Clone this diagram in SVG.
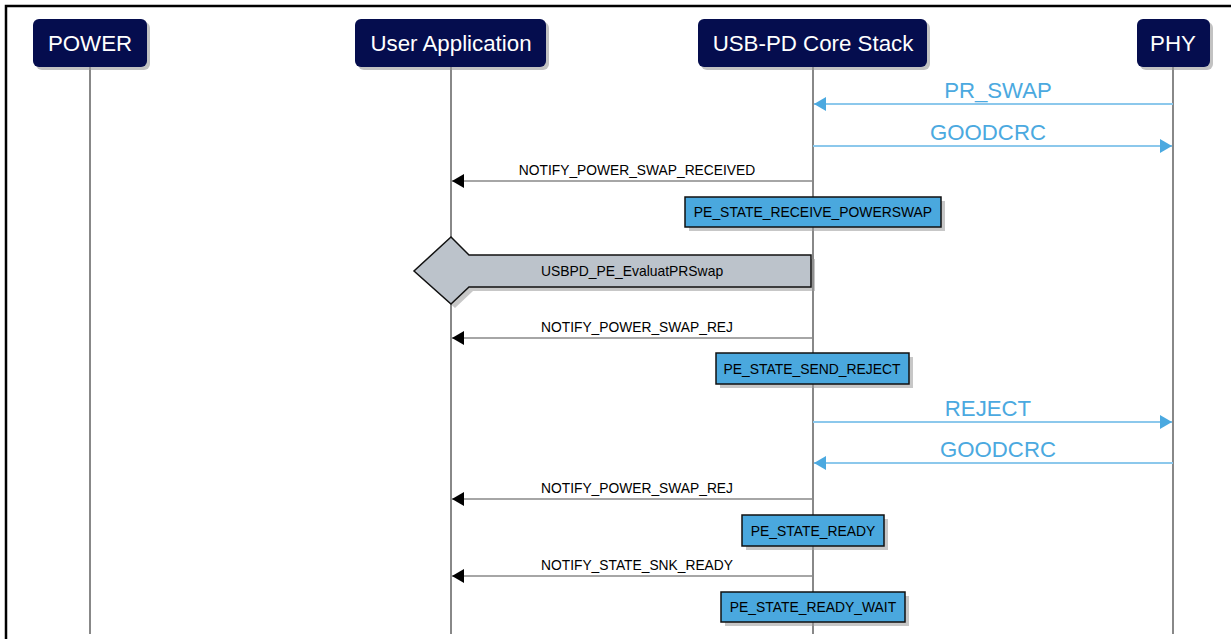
<svg xmlns="http://www.w3.org/2000/svg" width="1231" height="639" viewBox="0 0 1231 639">
<defs>
<style>
.hdr{fill:#050D4E;}
.hdrsh{fill:#9a9a9a;opacity:0.6;}
.hdrt{font-family:"Liberation Sans",Arial,sans-serif;font-size:22.3px;fill:#ffffff;text-anchor:middle;}
.life{stroke:#888888;stroke-width:2;fill:none;}
.msg{stroke:#888888;stroke-width:1.6;fill:none;}
.msgt{font-family:"Liberation Sans",Arial,sans-serif;font-size:13.8px;fill:#000000;text-anchor:middle;}
.phy{stroke:#8CC8EC;stroke-width:2;fill:none;}
.phyt{font-family:"Liberation Sans",Arial,sans-serif;font-size:22.2px;fill:#4BA9E0;text-anchor:middle;}
.st{fill:#4AA8DE;stroke:#111111;stroke-width:1.5;}
.sh{fill:#999999;opacity:0.55;}
.stt{font-family:"Liberation Sans",Arial,sans-serif;font-size:13.9px;fill:#000000;text-anchor:middle;}
</style>
<marker id="ab" markerWidth="14" markerHeight="16" refX="12" refY="8" orient="auto" markerUnits="userSpaceOnUse">
<path d="M0,1 L12,8 L0,15 Z" fill="#000000"/>
</marker>
<marker id="abl" markerWidth="14" markerHeight="16" refX="12" refY="8" orient="auto" markerUnits="userSpaceOnUse">
<path d="M0,1 L12,8 L0,15 Z" fill="#4BA9E0"/>
</marker>
</defs>
<rect width="1231" height="639" fill="#ffffff"/>
<!-- frame -->
<path d="M6,639 L6,6 L1231,6" stroke="#000000" stroke-width="2.5" fill="none"/>

<g id="lifelines">
<line class="life" x1="90" y1="66" x2="90" y2="634"/>
<line class="life" x1="451" y1="66" x2="451" y2="634"/>
<line class="life" x1="813" y1="66" x2="813" y2="634"/>
<line class="life" x1="1173" y1="66" x2="1173" y2="634"/>
</g>

<g id="power">
<rect class="hdrsh" x="36" y="22" width="114" height="48" rx="6"/>
<rect class="hdr" x="33" y="19" width="114" height="48" rx="6"/>
<text class="hdrt" x="90" y="51">POWER</text>
</g>
<g id="userapp">
<rect class="hdrsh" x="358" y="22" width="191" height="48" rx="6"/>
<rect class="hdr" x="355" y="19" width="191" height="48" rx="6"/>
<text class="hdrt" x="451" y="51">User Application</text>
</g>
<g id="corestack">
<rect class="hdrsh" x="701" y="22" width="229" height="48" rx="6"/>
<rect class="hdr" x="698" y="19" width="229" height="48" rx="6"/>
<text class="hdrt" x="813" y="51">USB-PD Core Stack</text>
</g>
<g id="phy">
<rect class="hdrsh" x="1140" y="22" width="73" height="48" rx="6"/>
<rect class="hdr" x="1137" y="19" width="73" height="48" rx="6"/>
<text class="hdrt" x="1173" y="51">PHY</text>
</g>

<g id="connectors">
<line class="phy" x1="1173" y1="104" x2="814" y2="104" marker-end="url(#abl)"/>
<text class="phyt" x="998" y="98">PR_SWAP</text>
<line class="phy" x1="813" y1="146" x2="1172" y2="146" marker-end="url(#abl)"/>
<text class="phyt" x="988" y="140">GOODCRC</text>
<line class="msg" x1="813" y1="181" x2="452" y2="181" marker-end="url(#ab)"/>
<text class="msgt" x="637" y="175">NOTIFY_POWER_SWAP_RECEIVED</text>
<line class="msg" x1="813" y1="338" x2="452" y2="338" marker-end="url(#ab)"/>
<text class="msgt" x="637" y="332">NOTIFY_POWER_SWAP_REJ</text>
<line class="phy" x1="813" y1="422" x2="1172" y2="422" marker-end="url(#abl)"/>
<text class="phyt" x="988" y="416">REJECT</text>
<line class="phy" x1="1173" y1="463" x2="814" y2="463" marker-end="url(#abl)"/>
<text class="phyt" x="998" y="457">GOODCRC</text>
<line class="msg" x1="813" y1="499" x2="452" y2="499" marker-end="url(#ab)"/>
<text class="msgt" x="637" y="493">NOTIFY_POWER_SWAP_REJ</text>
<line class="msg" x1="813" y1="576" x2="452" y2="576" marker-end="url(#ab)"/>
<text class="msgt" x="637" y="570">NOTIFY_STATE_SNK_READY</text>
</g>

<g id="state_receive_powerswap">
<rect class="sh" x="689" y="201" width="256" height="30"/>
<rect class="st" x="685" y="197" width="256" height="30"/>
<text class="stt" x="813" y="217">PE_STATE_RECEIVE_POWERSWAP</text>
</g>

<g id="evaluate_prswap">
<polygon points="455,241 473,259 815,259 815,291 473,291 455,308 418,275" fill="#999999" opacity="0.55"/>
<polygon points="451,237 469,255 811,255 811,287 469,287 451,304 414,271" fill="#BCC3CB" stroke="#111111" stroke-width="1.5"/>
<text class="stt" x="632" y="276">USBPD_PE_EvaluatPRSwap</text>
</g>

<g id="state_send_reject">
<rect class="sh" x="720" y="357" width="193" height="31"/>
<rect class="st" x="716" y="353" width="193" height="31"/>
<text class="stt" x="812" y="374">PE_STATE_SEND_REJECT</text>
</g>

<g id="state_ready">
<rect class="sh" x="746" y="519" width="142" height="31"/>
<rect class="st" x="742" y="515" width="142" height="31"/>
<text class="stt" x="813" y="536">PE_STATE_READY</text>
</g>

<g id="state_ready_wait">
<rect class="sh" x="725" y="596" width="184" height="30"/>
<rect class="st" x="721" y="592" width="184" height="30"/>
<text class="stt" x="813" y="612">PE_STATE_READY_WAIT</text>
</g>
</svg>
